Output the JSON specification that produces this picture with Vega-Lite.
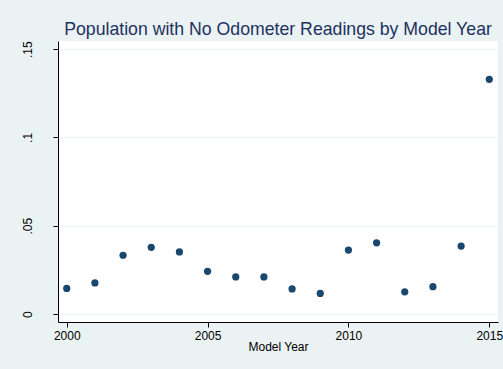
{
  "$schema": "https://vega.github.io/schema/vega-lite/v6.json",
  "autosize": {"type": "none"},
  "width": 440,
  "height": 281,
  "padding": {"left": 58, "top": 41, "right": 5, "bottom": 47},
  "background": "#EAF2F3",
  "title": {
    "text": "Population with No Odometer Readings by Model Year",
    "font": "Liberation Sans",
    "fontSize": 17.7,
    "fontWeight": "normal",
    "color": "#1e3160",
    "anchor": "middle",
    "offset": 2
  },
  "data": {
    "values": [
      {"year": 2000, "share": 0.0145},
      {"year": 2001, "share": 0.0176},
      {"year": 2002, "share": 0.0333},
      {"year": 2003, "share": 0.0378},
      {"year": 2004, "share": 0.0352},
      {"year": 2005, "share": 0.0242},
      {"year": 2006, "share": 0.0210},
      {"year": 2007, "share": 0.0210},
      {"year": 2008, "share": 0.0142},
      {"year": 2009, "share": 0.0117},
      {"year": 2010, "share": 0.0362},
      {"year": 2011, "share": 0.0403},
      {"year": 2012, "share": 0.0126},
      {"year": 2013, "share": 0.0155},
      {"year": 2014, "share": 0.0385},
      {"year": 2015, "share": 0.1329}
    ]
  },
  "mark": {"type": "circle", "size": 52, "opacity": 1, "color": "#1a476f"},
  "encoding": {
    "x": {
      "field": "year",
      "type": "quantitative",
      "scale": {"domain": [1999.69, 2015.31], "nice": false, "zero": false},
      "axis": {
        "values": [2000, 2005, 2010, 2015],
        "format": "d",
        "grid": false,
        "title": "Model Year",
        "domainColor": "#000000",
        "tickColor": "#000000",
        "tickSize": 5,
        "labelColor": "#000000",
        "labelFontSize": 12,
        "labelPadding": 3,
        "titleFontSize": 12,
        "titleFontWeight": "normal",
        "titleColor": "#000000",
        "titlePadding": 0,
        "labelFlush": false
      }
    },
    "y": {
      "field": "share",
      "type": "quantitative",
      "scale": {"domain": [-0.0045, 0.1546], "nice": false, "zero": false},
      "axis": {
        "values": [0, 0.05, 0.1, 0.15],
        "labelExpr": "replace(format(datum.value, '.2~f'), '0.', '.')",
        "title": null,
        "grid": true,
        "gridColor": "#EAF2F3",
        "gridWidth": 1,
        "domainColor": "#000000",
        "tickColor": "#000000",
        "tickSize": 5,
        "labelAngle": -90,
        "labelAlign": "center",
        "labelBaseline": "bottom",
        "labelColor": "#000000",
        "labelFontSize": 12,
        "labelPadding": 19,
        "labelFlush": false
      }
    }
  },
  "config": {
    "font": "Liberation Sans",
    "view": {"fill": "white", "stroke": null},
    "axis": {"labelFont": "Liberation Sans", "titleFont": "Liberation Sans"}
  }
}
